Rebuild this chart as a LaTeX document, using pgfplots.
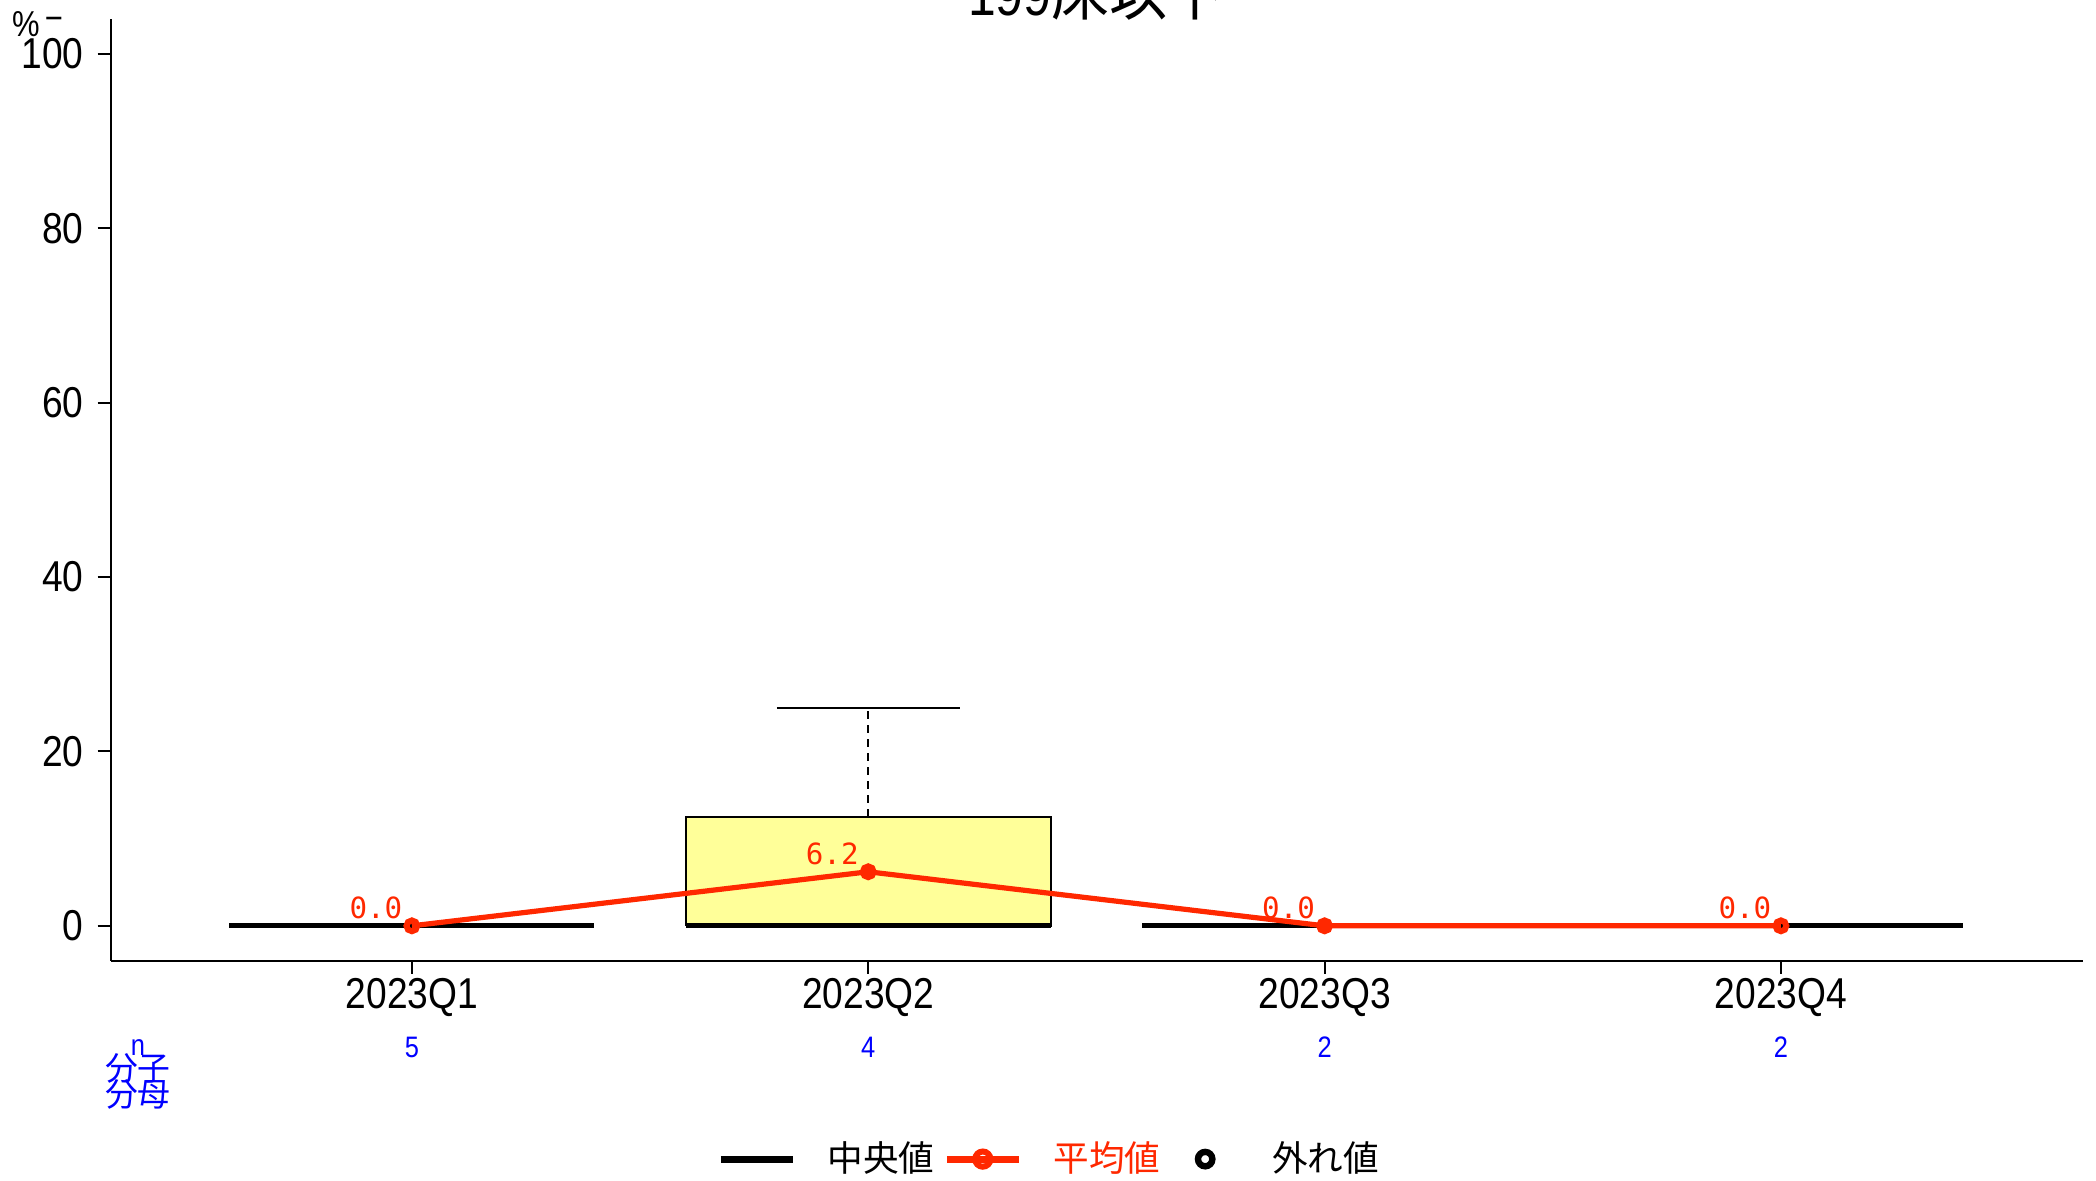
\documentclass[border=0pt]{standalone}
\usepackage{pgfplots}
\pgfplotsset{compat=1.18}
\usepackage{fontspec}
\setmainfont{Liberation Sans}[FakeStretch=0.86]
\newfontfamily\cjk{Noto Sans CJK JP}
\newfontfamily\monof{DejaVu Sans Mono}
\definecolor{meanred}{RGB}{255,40,0}
\definecolor{boxyellow}{RGB}{255,255,153}
\definecolor{nblue}{RGB}{0,0,255}
\begin{document}
\begin{tikzpicture}
\useasboundingbox (-27.675pt,-54.825pt) rectangle (496.325pt,240.175pt);
\begin{axis}[
  at={(0pt,0pt)}, anchor=south west,
  width=493.08pt, height=235.4pt, scale only axis,
  xmin=0.34, xmax=4.662, ymin=-4, ymax=104,
  axis x line*=bottom, axis y line*=left,
  axis line style={line width=0.5pt, -},
  xtick={1,2,3,4}, xticklabels={2023Q1,2023Q2,2023Q3,2023Q4},
  ytick={0,20,40,60,80,100},
  tick align=outside,
  major tick length=3.25pt,
  tick style={black, line width=0.5pt},
  ticklabel style={font=\fontsize{10.8}{12}\selectfont},
  /pgf/number format/assume math mode=true,
  xticklabel style={inner sep=1pt},
  clip=false,
  legend columns=3,
  legend cell align=left,
  legend image code/.code={\path[draw=none,fill=none] (0pt,0pt) -- (18pt,0pt); \draw[mark repeat=2,mark phase=2,#1] plot coordinates {(0pt,0pt)(9pt,0pt)(18pt,0pt)};},
  legend style={draw=none, fill=none, at={(axis description cs:0.3075,-0.2107)}, anchor=west,
    inner sep=0pt, outer sep=0pt,
    nodes={inner sep=0pt, font=\cjk\fontsize{8.9}{10}\selectfont},
    /tikz/every odd column/.append style={column sep=7.8pt},
    /tikz/every even column/.append style={column sep=2.2pt}},
]
% box for 2023Q2
\addplot[draw=black, line width=0.5pt, fill=boxyellow, forget plot] coordinates {(1.6,0) (2.4,0) (2.4,12.5) (1.6,12.5) (1.6,0)};
% whisker
\addplot[black, line width=0.5pt, dash pattern=on 2pt off 1.5pt, forget plot] coordinates {(2,12.5) (2,25)};
\addplot[black, line width=0.5pt, forget plot] coordinates {(1.8,25) (2.2,25)};
% medians
\addplot[black, line width=1.3pt, forget plot] coordinates {(0.6,0) (1.4,0)};
\addplot[black, line width=1.3pt, forget plot] coordinates {(1.6,0) (2.4,0)};
\addplot[black, line width=1.3pt, forget plot] coordinates {(2.6,0) (3.4,0)};
\addplot[black, line width=1.3pt, forget plot] coordinates {(3.6,0) (4.4,0)};
% means
\addplot[meanred, line width=1.3pt, mark=o, mark size=1.35pt, mark options={line width=1.5pt, solid}, forget plot,
  point meta=y,
  nodes near coords={\pgfmathprintnumber[fixed, fixed zerofill, precision=1]{\pgfplotspointmeta}},
  every node near coord/.append style={anchor=center, xshift=-9pt, yshift=4.5pt, text=meanred, font=\monof\fontsize{7.3}{8}\selectfont}]
  coordinates {(1,0) (2,6.2) (3,0) (4,0)};
% legend
\addlegendimage{black, line width=1.8pt}
\addlegendentry{中央値}
\addlegendimage{meanred, line width=1.8pt, mark=o, mark size=1.9pt, mark options={line width=1.5pt, solid}}
\addlegendentry{\textcolor{meanred}{平均値}}
\addlegendimage{only marks, black, mark=o, mark size=1.8pt, mark options={line width=1.6pt}}
\addlegendentry{外れ値}
% n counts
\node[text=nblue, font=\fontsize{7.4}{8}\selectfont, yshift=-21.6pt] at (axis cs:1,-4) {5};
\node[text=nblue, font=\fontsize{7.4}{8}\selectfont, yshift=-21.6pt] at (axis cs:2,-4) {4};
\node[text=nblue, font=\fontsize{7.4}{8}\selectfont, yshift=-21.6pt] at (axis cs:3,-4) {2};
\node[text=nblue, font=\fontsize{7.4}{8}\selectfont, yshift=-21.6pt] at (axis cs:4,-4) {2};
\node[text=nblue, font=\fontsize{7.4}{8}\selectfont, xshift=6.8pt, yshift=-21.8pt] at (axis description cs:0,0) {n};
\node[text=nblue, font=\cjk\fontsize{8.2}{9}\selectfont, xshift=6.8pt, yshift=-27.0pt] at (axis description cs:0,0) {分子};
\node[text=nblue, font=\cjk\fontsize{8.2}{9}\selectfont, xshift=6.8pt, yshift=-33.3pt] at (axis description cs:0,0) {分母};
% unit label
\node[font=\fontsize{9}{10}\selectfont, xshift=-21.2pt, yshift=-1.2pt] at (axis description cs:0,1) {\%};
\node[font=\fontsize{9}{10}\selectfont, xshift=-14.2pt, yshift=-1.3pt] at (axis description cs:0,1) {−};
% title
\node[anchor=base, font=\fontsize{14.5}{16}\selectfont, yshift=1pt] at (axis description cs:0.5,1) {199{\cjk 床以下}};
\end{axis}
\end{tikzpicture}
\end{document}
